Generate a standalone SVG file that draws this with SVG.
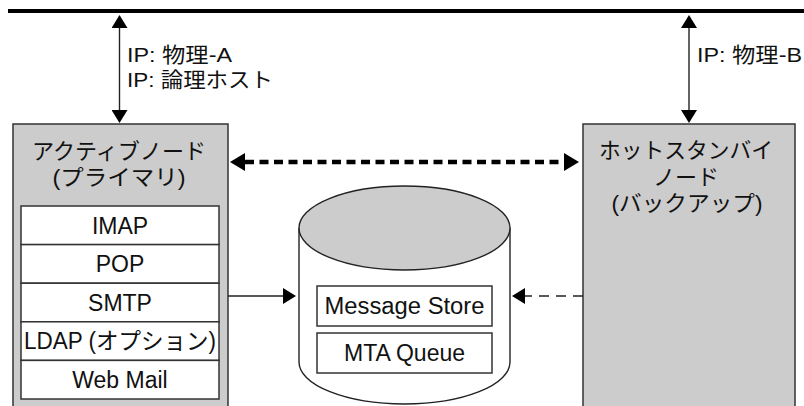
<svg xmlns="http://www.w3.org/2000/svg" width="804" height="406" viewBox="0 0 804 406">
  <style>
    text { font-family: "Liberation Sans", "Noto Sans CJK JP", sans-serif; fill: #111; }
    .lbl { font-size: 21px; }
    .ttl { font-size: 22px; text-anchor: middle; }
    .row { font-size: 23px; text-anchor: middle; }
    .node { fill: #cccccc; stroke: #333; stroke-width: 1.5; }
    .cell { fill: #ffffff; stroke: #333; stroke-width: 1.5; }
    .wire { fill: none; stroke: #222; stroke-width: 1.4; }
  </style>
  <defs>
    <marker id="tip" viewBox="0 0 13 16" refX="0" refY="8" markerWidth="13" markerHeight="16" markerUnits="userSpaceOnUse" orient="auto-start-reverse">
      <path d="M0,0 L13,8 L0,16 z" fill="#000"/>
    </marker>
    <marker id="tipL" viewBox="0 0 15 18" refX="0" refY="9" markerWidth="15" markerHeight="18" markerUnits="userSpaceOnUse" orient="auto-start-reverse">
      <path d="M0,0 L15,9 L0,18 z" fill="#000"/>
    </marker>
  </defs>

  <!-- network backbone -->
  <line x1="8" y1="11" x2="804" y2="11" stroke="#000" stroke-width="4"/>

  <g id="active-node">
    <rect class="node" x="13" y="124" width="215" height="300"/>
    <text class="ttl" x="119" y="159" textLength="174" lengthAdjust="spacingAndGlyphs">アクティブノード</text>
    <text class="ttl" x="119" y="185" textLength="133" lengthAdjust="spacingAndGlyphs">(プライマリ)</text>
    <g id="svc-imap">
      <rect class="cell" x="21" y="206" width="198" height="38.6"/>
      <text class="row" x="120" y="233.5">IMAP</text>
    </g>
    <g id="svc-pop">
      <rect class="cell" x="21" y="244.6" width="198" height="38.6"/>
      <text class="row" x="120" y="272">POP</text>
    </g>
    <g id="svc-smtp">
      <rect class="cell" x="21" y="283.2" width="198" height="38.6"/>
      <text class="row" x="120" y="310.5">SMTP</text>
    </g>
    <g id="svc-ldap">
      <rect class="cell" x="21" y="321.8" width="198" height="38.6"/>
      <text class="row" x="120" y="349" textLength="192" lengthAdjust="spacingAndGlyphs">LDAP (オプション)</text>
    </g>
    <g id="svc-webmail">
      <rect class="cell" x="21" y="360.4" width="198" height="38.6"/>
      <text class="row" x="120" y="387.5">Web Mail</text>
    </g>
  </g>

  <g id="standby-node">
    <rect class="node" x="583" y="124" width="212" height="300"/>
    <text class="ttl" x="686" y="158" textLength="174" lengthAdjust="spacingAndGlyphs">ホットスタンバイ</text>
    <text class="ttl" x="686" y="185">ノード</text>
    <text class="ttl" x="687" y="211" textLength="151" lengthAdjust="spacingAndGlyphs">(バックアップ)</text>
  </g>

  <g id="shared-storage">
    <path d="M299,228 L299,362 A105.5,42 0 0 0 510,362 L510,228" fill="#fff" stroke="#222" stroke-width="1.4"/>
    <ellipse cx="404.5" cy="228" rx="105.5" ry="42" fill="#cccccc" stroke="#222" stroke-width="1.4"/>
    <g id="message-store">
      <rect class="cell" x="317" y="286" width="175" height="40"/>
      <text class="row" x="404.5" y="313.5" font-size="23.5" textLength="160" lengthAdjust="spacingAndGlyphs">Message Store</text>
    </g>
    <g id="mta-queue">
      <rect class="cell" x="317" y="333" width="175" height="40"/>
      <text class="row" x="404.5" y="360.5" font-size="23.5">MTA Queue</text>
    </g>
  </g>

  <g id="connectors">
    <line class="wire" x1="119.5" y1="28" x2="119.5" y2="110" marker-start="url(#tip)" marker-end="url(#tip)"/>
    <line class="wire" x1="689" y1="28" x2="689" y2="110" marker-start="url(#tip)" marker-end="url(#tip)"/>
    <line x1="245" y1="162" x2="564" y2="162" stroke="#000" stroke-width="4.5" stroke-dasharray="9 5.5" marker-start="url(#tipL)" marker-end="url(#tipL)"/>
    <line class="wire" x1="228" y1="296" x2="283" y2="296" marker-end="url(#tip)"/>
    <line class="wire" x1="583" y1="296" x2="525" y2="296" stroke-dasharray="10 7" marker-end="url(#tip)"/>
  </g>

  <g id="ip-labels">
    <text class="lbl" x="127" y="62" textLength="105" lengthAdjust="spacingAndGlyphs">IP: 物理-A</text>
    <text class="lbl" x="127" y="87" textLength="146" lengthAdjust="spacingAndGlyphs">IP: 論理ホスト</text>
    <text class="lbl" x="697" y="62" textLength="105" lengthAdjust="spacingAndGlyphs">IP: 物理-B</text>
  </g>
</svg>
